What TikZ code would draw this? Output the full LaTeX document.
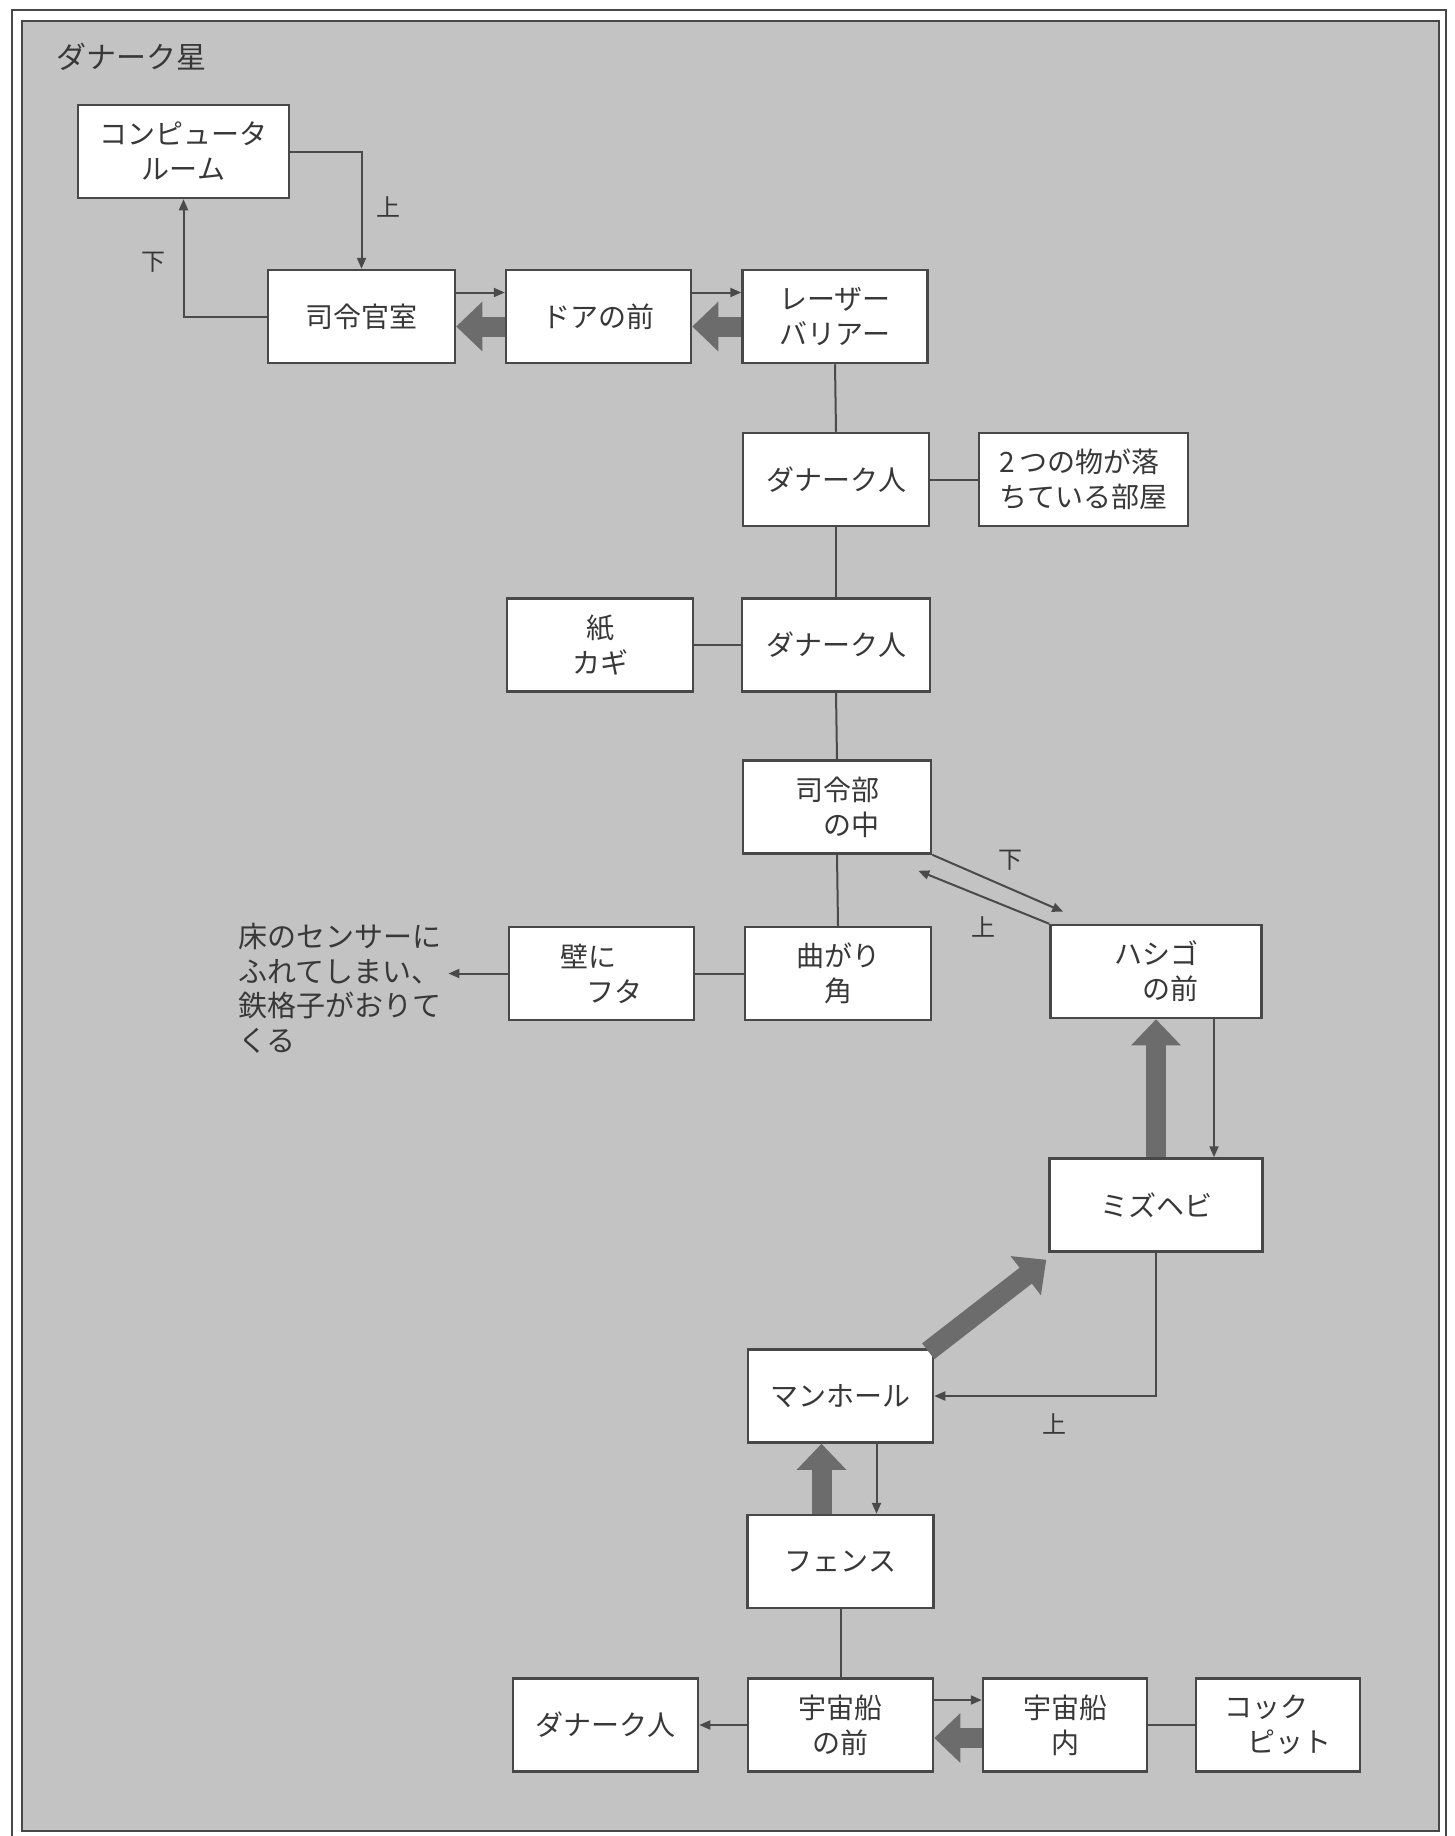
\documentclass[tikz,border=0pt]{standalone}
\usepackage{fontspec}
\setmainfont{Noto Sans CJK JP}
\usetikzlibrary{arrows.meta,calc}
\definecolor{panelc}{HTML}{C3C3C3}
\definecolor{boxline}{HTML}{484848}
\definecolor{txt}{HTML}{383838}
\definecolor{linec}{HTML}{4A4A4A}
\definecolor{bigc}{HTML}{6C6C6C}
\tikzset{
  box/.style={draw=boxline, line width=2.5pt, fill=white, inner sep=0pt,
    minimum width=186pt, minimum height=93pt, text=txt,
    font=\fontsize{28}{35}\selectfont},
  conn/.style={draw=linec, line width=2pt},
  arr/.style={conn, -{Triangle[length=11pt,width=9pt]}},
  big/.style={draw=bigc, line width=20pt, -{Triangle[length=26pt,width=48pt]}},
  lbl/.style={text=txt, inner sep=0pt, font=\fontsize{24}{28}\selectfont}
}
\begin{document}
\begin{tikzpicture}[x=1pt,y=-1pt]
\useasboundingbox (0,0) rectangle (1454,1836);
\fill[white] (0,0) rectangle (1454,1836);
\draw[boxline, line width=2pt] (12,1836) -- (12,10) -- (1446,10) -- (1446,1836);
\filldraw[fill=panelc, draw=boxline, line width=2.5pt] (22,21) rectangle (1439,1831);

\node[lbl, anchor=west, font=\fontsize{30}{34}\selectfont] (title) at (56,57) {ダナーク星};

% boxes
\node[box, minimum width=211pt, align=center] (comp) at (183.5,151.5) {コンピュータ\\ルーム};
\node[box, minimum width=187pt] (shirei) at (361.5,316.5) {司令官室};
\node[box, minimum width=185pt] (door) at (598.5,316.5) {ドアの前};
\node[box, minimum width=185pt, align=center] (laser) at (835,316.5) {レーザー\\バリアー};
\node[box] (dan1) at (836,479.5) {ダナーク人};
\node[box, minimum width=209pt, align=left] (room2) at (1083.5,479.5) {2\,つの物が落\\ちている部屋};
\node[box, align=center] (kami) at (600,645) {紙\\カギ};
\node[box, minimum width=188pt] (dan2) at (836,645) {ダナーク人};
\node[box, minimum width=188pt, align=right] (hq) at (837,807) {司令部\\の中};
\node[box, align=center] (magari) at (838,973.5) {曲がり\\角};
\node[box, minimum width=185pt, align=left] (kabe) at (601.5,973.5) {壁に\\\hspace{0.9em}フタ};
\node[box, minimum width=211pt, align=right] (hashigo) at (1156,971.5) {ハシゴ\\の前};
\node[box, minimum width=213pt] (mizu) at (1156,1205) {ミズヘビ};
\node[box, minimum width=185pt] (man) at (840.5,1396) {マンホール};
\node[box] (fence) at (840.5,1561.5) {フェンス};
\node[box, minimum width=185pt, align=center] (shipf) at (840.5,1725) {宇宙船\\の前};
\node[box, minimum width=185pt] (dan3) at (605.5,1725) {ダナーク人};
\node[box, minimum width=164pt, align=center] (shipin) at (1065,1725) {宇宙船\\内};
\node[box, minimum width=164pt, align=left] (cock) at (1278,1725) {コック\\\hspace{0.8em}ピット};

\node[lbl, anchor=north west, align=left, font=\fontsize{29}{34.5}\selectfont] (note) at (238,923)
  {床のセンサーに\\ふれてしまい、\\鉄格子がおりて\\くる};

% top loop
\draw[arr] (comp.east) -| (shirei.north);
\node[lbl] (up1) at (388,207) {上};
\draw[arr] (shirei.west) -| (comp.south);
\node[lbl] (down1) at (153,262) {下};

% shirei - door - laser
\draw[arr] ($(shirei.east)+(0,-24)$) -- ($(door.west)+(0,-24)$);
\draw[big] ($(door.west)+(0,10)$) -- ($(shirei.east)+(0,10)$);
\draw[arr] ($(door.east)+(0,-24)$) -- ($(laser.west)+(0,-24)$);
\draw[big] ($(laser.west)+(0,10)$) -- ($(door.east)+(0,10)$);

% main column
\draw[conn] (laser.south) -- (dan1.north);
\draw[conn] (dan1.east) -- (room2.west);
\draw[conn] (dan1.south) -- (dan2.north);
\draw[conn] (kami.east) -- (dan2.west);
\draw[conn] (dan2.south) -- (hq.north);
\draw[conn] (hq.south) -- (magari.north);
\draw[conn] (magari.west) -- (kabe.east);
\draw[arr] (kabe.west) -- ($(note.east |- kabe.west)+(7,0)$);

% hq <-> hashigo
\draw[arr] (hq.south east) -- ($(hashigo.north west)+(14,-12)$);
\draw[arr] (hashigo.north west) -- ($(hq.south east)+(-14,16)$);
\node[lbl] (down2) at (1010,860) {下};
\node[lbl] (up2) at (983,927) {上};

% hashigo <-> mizu
\draw[big] (mizu.north) -- (hashigo.south);
\draw[arr] ($(hashigo.south)+(58,0)$) -- ($(mizu.north)+(58,0)$);

% mizu -> man
\draw[arr] (mizu.south) |- (man.east);
\node[lbl] (up3) at (1054,1424) {上};
\draw[big] ($(man.north east)+(-6,3)$) -- ($(mizu.south west)+(-2,7)$);

% man <-> fence
\draw[big] ($(fence.north)+(-19,0)$) -- ($(man.south)+(-19,0)$);
\draw[arr] ($(man.south)+(36,0)$) -- ($(fence.north)+(36,0)$);
\draw[conn] (fence.south) -- (shipf.north);

% bottom row
\draw[arr] (shipf.west) -- (dan3.east);
\draw[arr] ($(shipf.east)+(0,-25)$) -- ($(shipin.west)+(0,-25)$);
\draw[big] ($(shipin.west)+(0,13)$) -- ($(shipf.east)+(0,13)$);
\draw[conn] (shipin.east) -- (cock.west);
\end{tikzpicture}
\end{document}
